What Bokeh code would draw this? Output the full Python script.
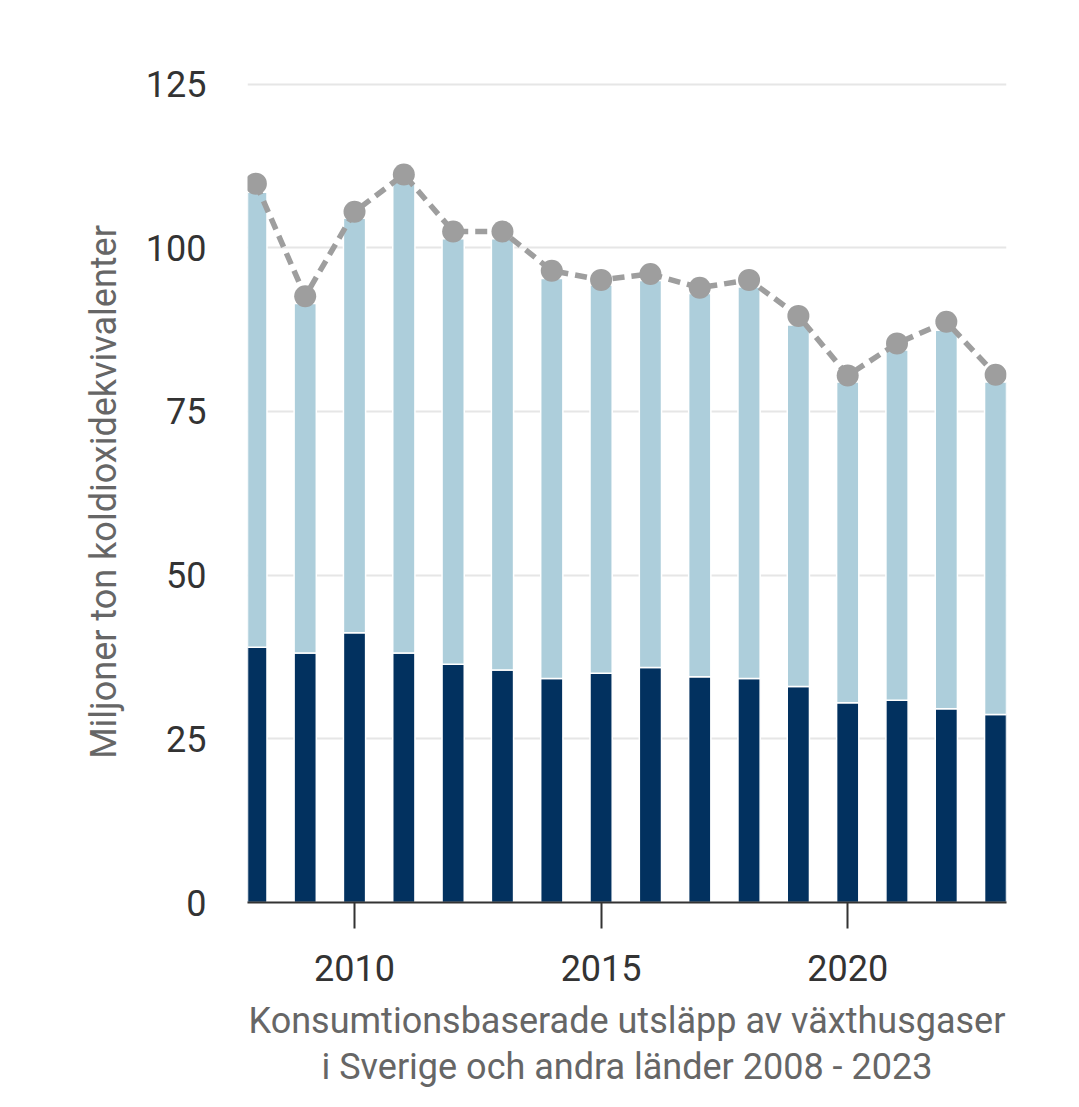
from bokeh.embed import file_html
from bokeh.models import ColumnDataSource, FixedTicker, Range1d
from bokeh.plotting import figure
from bokeh.resources import INLINE

years = list(range(2008, 2024))
# emissions in Sweden (dark) and abroad (light), million tonnes CO2e
sverige = [39.0, 38.1, 41.2, 38.1, 36.4, 35.5, 34.2, 35.0, 35.9, 34.5, 34.2, 33.0, 30.5, 30.9, 29.6, 28.7]
andra_lander = [69.5, 53.4, 63.3, 72.0, 65.0, 65.9, 61.1, 59.3, 59.1, 58.5, 59.8, 55.2, 49.0, 53.5, 57.8, 50.8]
totalt = [109.8, 92.6, 105.5, 111.2, 102.5, 102.5, 96.5, 95.1, 96.0, 93.9, 95.1, 89.6, 80.5, 85.4, 88.7, 80.6]

y_ticks = [0, 25, 50, 75, 100, 125]
x_ticks = [2010, 2015, 2020]

DARK = "#02315f"
LIGHT = "#adcedb"
GREY = "#9e9e9e"
FONT = "Roboto"

source = ColumnDataSource(data=dict(year=years, sverige=sverige, andra=andra_lander, totalt=totalt))

p = figure(
    x_range=Range1d(2007.83, 2023.22),
    y_range=Range1d(0, 125.4),
    frame_width=759,
    frame_height=821,
    min_border_left=247,
    min_border_top=81,
    min_border_right=50,
    min_border_bottom=10,
    toolbar_location=None,
    output_backend="svg",
    outline_line_color=None,
)

p.vbar_stack(["sverige", "andra"], x="year", width=0.45, source=source,
             color=[DARK, LIGHT], line_color="white", line_width=1.5)

p.line("year", "totalt", source=source, line_color=GREY, line_width=5.5, line_dash="12 7")
p.scatter("year", "totalt", source=source, size=22, fill_color=GREY, line_color=None)

# grid
p.xgrid.grid_line_color = None
p.ygrid.grid_line_color = "#e6e6e6"
p.ygrid.grid_line_width = 2
p.ygrid.level = "underlay"

# y axis
p.yaxis.ticker = FixedTicker(ticks=y_ticks)
p.yaxis.axis_line_color = None
p.yaxis.major_tick_line_color = None
p.yaxis.minor_tick_line_color = None
p.yaxis.major_label_standoff = 35
p.yaxis.major_label_text_font = FONT
p.yaxis.major_label_text_font_size = "36px"
p.yaxis.major_label_text_color = "#333333"
p.yaxis.axis_label = "Miljoner ton koldioxidekvivalenter"
p.yaxis.axis_label_text_font = FONT
p.yaxis.axis_label_text_font_size = "36px"
p.yaxis.axis_label_text_font_style = "normal"
p.yaxis.axis_label_text_color = "#666666"
p.yaxis.axis_label_standoff = 18

# x axis
p.xaxis.ticker = FixedTicker(ticks=x_ticks)
p.xaxis.axis_line_color = "#333333"
p.xaxis.axis_line_width = 2
p.xaxis.major_tick_line_color = "#333333"
p.xaxis.major_tick_line_width = 2
p.xaxis.major_tick_in = 0
p.xaxis.major_tick_out = 26
p.xaxis.minor_tick_line_color = None
p.xaxis.major_label_standoff = 26
p.xaxis.major_label_text_font = FONT
p.xaxis.major_label_text_font_size = "36px"
p.xaxis.major_label_text_color = "#333333"
p.xaxis.axis_label = "Konsumtionsbaserade utsläpp av växthusgaser\ni Sverige och andra länder 2008 - 2023"
p.xaxis.axis_label_text_font = FONT
p.xaxis.axis_label_text_font_size = "36px"
p.xaxis.axis_label_text_font_style = "normal"
p.xaxis.axis_label_text_color = "#666666"
p.xaxis.axis_label_text_line_height = 1.1
p.xaxis.axis_label_standoff = 16

open("out.html", "w").write(file_html(p, INLINE))
